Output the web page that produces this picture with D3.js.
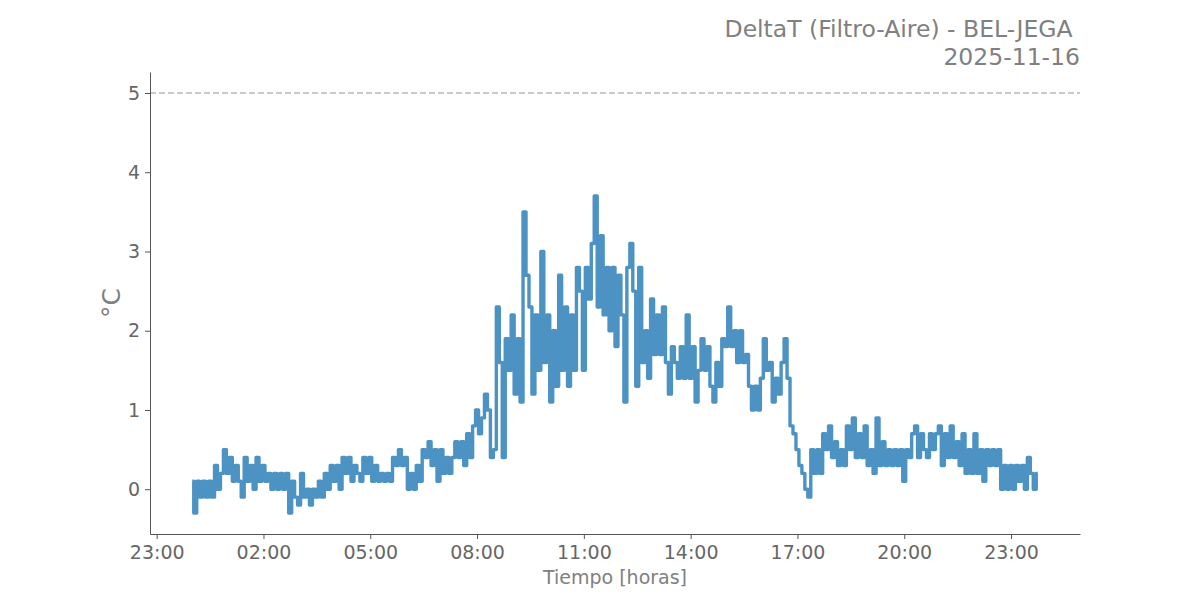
<!DOCTYPE html>
<html>
<head>
<meta charset="utf-8">
<script src="https://cdn.jsdelivr.net/npm/d3@7"></script>
<style>
  body { margin: 0; background: #fff; }
  text { font-family: "DejaVu Sans", sans-serif; }
</style>
</head>
<body>
<div id="chart"></div>
<script>
// data: DeltaT every 5 min starting 00:00
var madrugada = [0.1,-0.3,0.1,-0.1,0.1,-0.1,0.1,-0.1,0.3,0.0,0.2,0.5,
  0.2,0.4,0.1,0.3,0.1,-0.1,0.4,0.1,0.3,0.0,0.4,0.1,
  0.3,0.1,0.2,0.0,0.2,0.0,0.2,0.0,0.2,-0.3,0.1,-0.1,
  -0.2,0.2,-0.1,0.0,-0.2,0.0,-0.1,0.1,-0.1,0.2,0.0,0.3,
  0.1,0.3,0.0,0.4,0.2,0.4,0.1,0.3,0.2,0.1,0.4,0.2,0.4];
var manana = [0.1,0.3,0.1,0.2,0.1,0.2,0.1,0.4,0.3,0.5,0.3,0.4,
  0.0,0.2,0.0,0.3,0.1,0.5,0.4,0.6,0.3,0.5,0.1,0.5,
  0.2,0.4,0.2,0.4,0.6,0.4,0.6,0.3,0.7,0.4,0.8,1.0,
  0.7,0.9,1.2,1.0,0.4,0.5,2.3,1.6,0.4,1.9,1.5,2.2,
  1.2,1.9,1.1,3.5,2.7,2.3,1.2,2.2,1.5,3.0,1.6,2.2];
var mediodia = [1.1,2.0,1.3,2.7,1.5,2.3,1.3,2.2,1.5,2.8,2.5,1.5,
  2.8,2.4,3.1,3.7,2.3,3.2,2.2,2.8,2.0,2.8,1.8,2.7,
  2.2,1.1,2.8,3.1,2.5,1.3,2.8,1.6,2.0,1.4,2.4,1.7,
  2.2,1.7,2.3,1.6,1.2,1.8,1.6,1.4,1.8,1.4,2.2,1.4,1.8];
var tarde = [1.1,1.5,1.9,1.5,1.8,1.3,1.1,1.6,1.3,1.9,1.8,2.3,
  1.8,2.0,1.6,2.0,1.6,1.7,1.3,1.0,1.3,1.0,1.4,1.9,
  1.5,1.6,1.1,1.4,1.2,1.6,1.9,1.4,0.8,0.7,0.5,0.3,
  0.2,0.0,-0.1,0.5,0.2,0.5,0.2,0.7,0.5,0.8,0.4,0.6];
var noche = [0.3,0.5,0.3,0.8,0.5,0.9,0.4,0.7,0.4,0.8,0.3,0.5,
  0.2,0.9,0.3,0.6,0.3,0.5,0.3,0.5,0.3,0.5,0.1,0.5,
  0.4,0.7,0.8,0.4,0.7,0.5,0.4,0.7,0.5,0.7,0.8,0.3,0.7,
  0.4,0.8,0.4,0.6,0.3,0.7,0.2,0.5,0.2,0.7,0.2,0.5,
  0.1,0.5,0.3,0.5,0.3,0.5,0.0,0.3,0.0,0.3,0.0,0.3,
  0.1,0.3,0.0,0.4,0.2,0.0,0.2];
var limite = 5;
var tickHours = [-1, 2, 5, 8, 11, 14, 17, 20, 23];
var yTicks = [0, 1, 2, 3, 4, 5];
var titulo = ["DeltaT (Filtro-Aire) - BEL-JEGA ", "2025-11-16"];

var values = madrugada.concat(manana, mediodia, tarde, noche);
var base = new Date(2025, 10, 16, 0, 0);
var data = values.map(function(v, i) { return {t: d3.timeMinute.offset(base, 5 * i), v: v}; });

// settings
var W = 1200, H = 600,
    mLeft = 150, mRight = 1080, mTop = 72, mBottom = 534;

var svg = d3.select("#chart").append("svg")
    .attr("width", W).attr("height", H);

var t0 = data[0].t, t1 = data[data.length - 1].t,
    tpad = (t1 - t0) * 0.05;
var x = d3.scaleTime()
    .domain([new Date(+t0 - tpad), new Date(+t1 + tpad)])
    .range([mLeft, mRight]);

var vmin = Math.min(d3.min(values), limite), vmax = Math.max(d3.max(values), limite),
    vpad = (vmax - vmin) * 0.05;
var y = d3.scaleLinear()
    .domain([vmin - vpad, vmax + vpad])
    .range([mBottom, mTop]);

// threshold
svg.append("line")
    .attr("x1", mLeft).attr("x2", mRight)
    .attr("y1", y(limite)).attr("y2", y(limite))
    .attr("stroke", "#b8b8b8").attr("stroke-width", 1.5)
    .attr("stroke-dasharray", "6,3");

// series
svg.append("path")
    .datum(data)
    .attr("fill", "none")
    .attr("stroke", "#1f77b4")
    .attr("stroke-opacity", 0.8)
    .attr("stroke-width", 3.4)
    .attr("stroke-linejoin", "round")
    .attr("d", d3.line().curve(d3.curveStep)
        .x(function(d) { return x(d.t); }).y(function(d) { return y(d.v); }));

// axes
var xAxis = svg.append("g")
    .attr("transform", "translate(0," + mBottom + ")")
    .call(d3.axisBottom(x)
        .tickValues(tickHours.map(function(h) { return d3.timeHour.offset(base, h); }))
        .tickFormat(d3.timeFormat("%H:%M"))
        .tickSize(5).tickPadding(5).tickSizeOuter(0));

var yAxis = svg.append("g")
    .attr("transform", "translate(" + mLeft + ",0)")
    .call(d3.axisLeft(y).tickValues(yTicks).tickFormat(d3.format("d"))
        .tickSize(5).tickPadding(5).tickSizeOuter(0));

[xAxis, yAxis].forEach(function(g) {
  g.select(".domain").attr("stroke", "#555").attr("stroke-width", 1);
  g.selectAll(".tick line").attr("stroke", "#555");
  g.selectAll(".tick text").attr("fill", "#666").style("font-size", "19px");
});
xAxis.selectAll(".tick text").attr("dy", "0.78em");

// labels
svg.append("text")
    .attr("x", (mLeft + mRight) / 2).attr("y", 584)
    .attr("text-anchor", "middle")
    .attr("fill", "#808080").style("font-size", "19px")
    .text("Tiempo [horas]");

svg.append("text")
    .attr("transform", "translate(120," + (mTop + mBottom) / 2 + ") rotate(-90)")
    .attr("text-anchor", "middle")
    .attr("fill", "#808080").style("font-size", "25px")
    .text("°C");

svg.append("g").selectAll("text")
    .data(titulo)
    .enter().append("text")
    .attr("x", mRight)
    .attr("y", function(d, i) { return 37 + i * 28; })
    .attr("text-anchor", "end")
    .style("white-space", "pre")
    .attr("fill", "#808080").style("font-size", "23.5px")
    .text(function(d) { return d; });
</script>
</body>
</html>
